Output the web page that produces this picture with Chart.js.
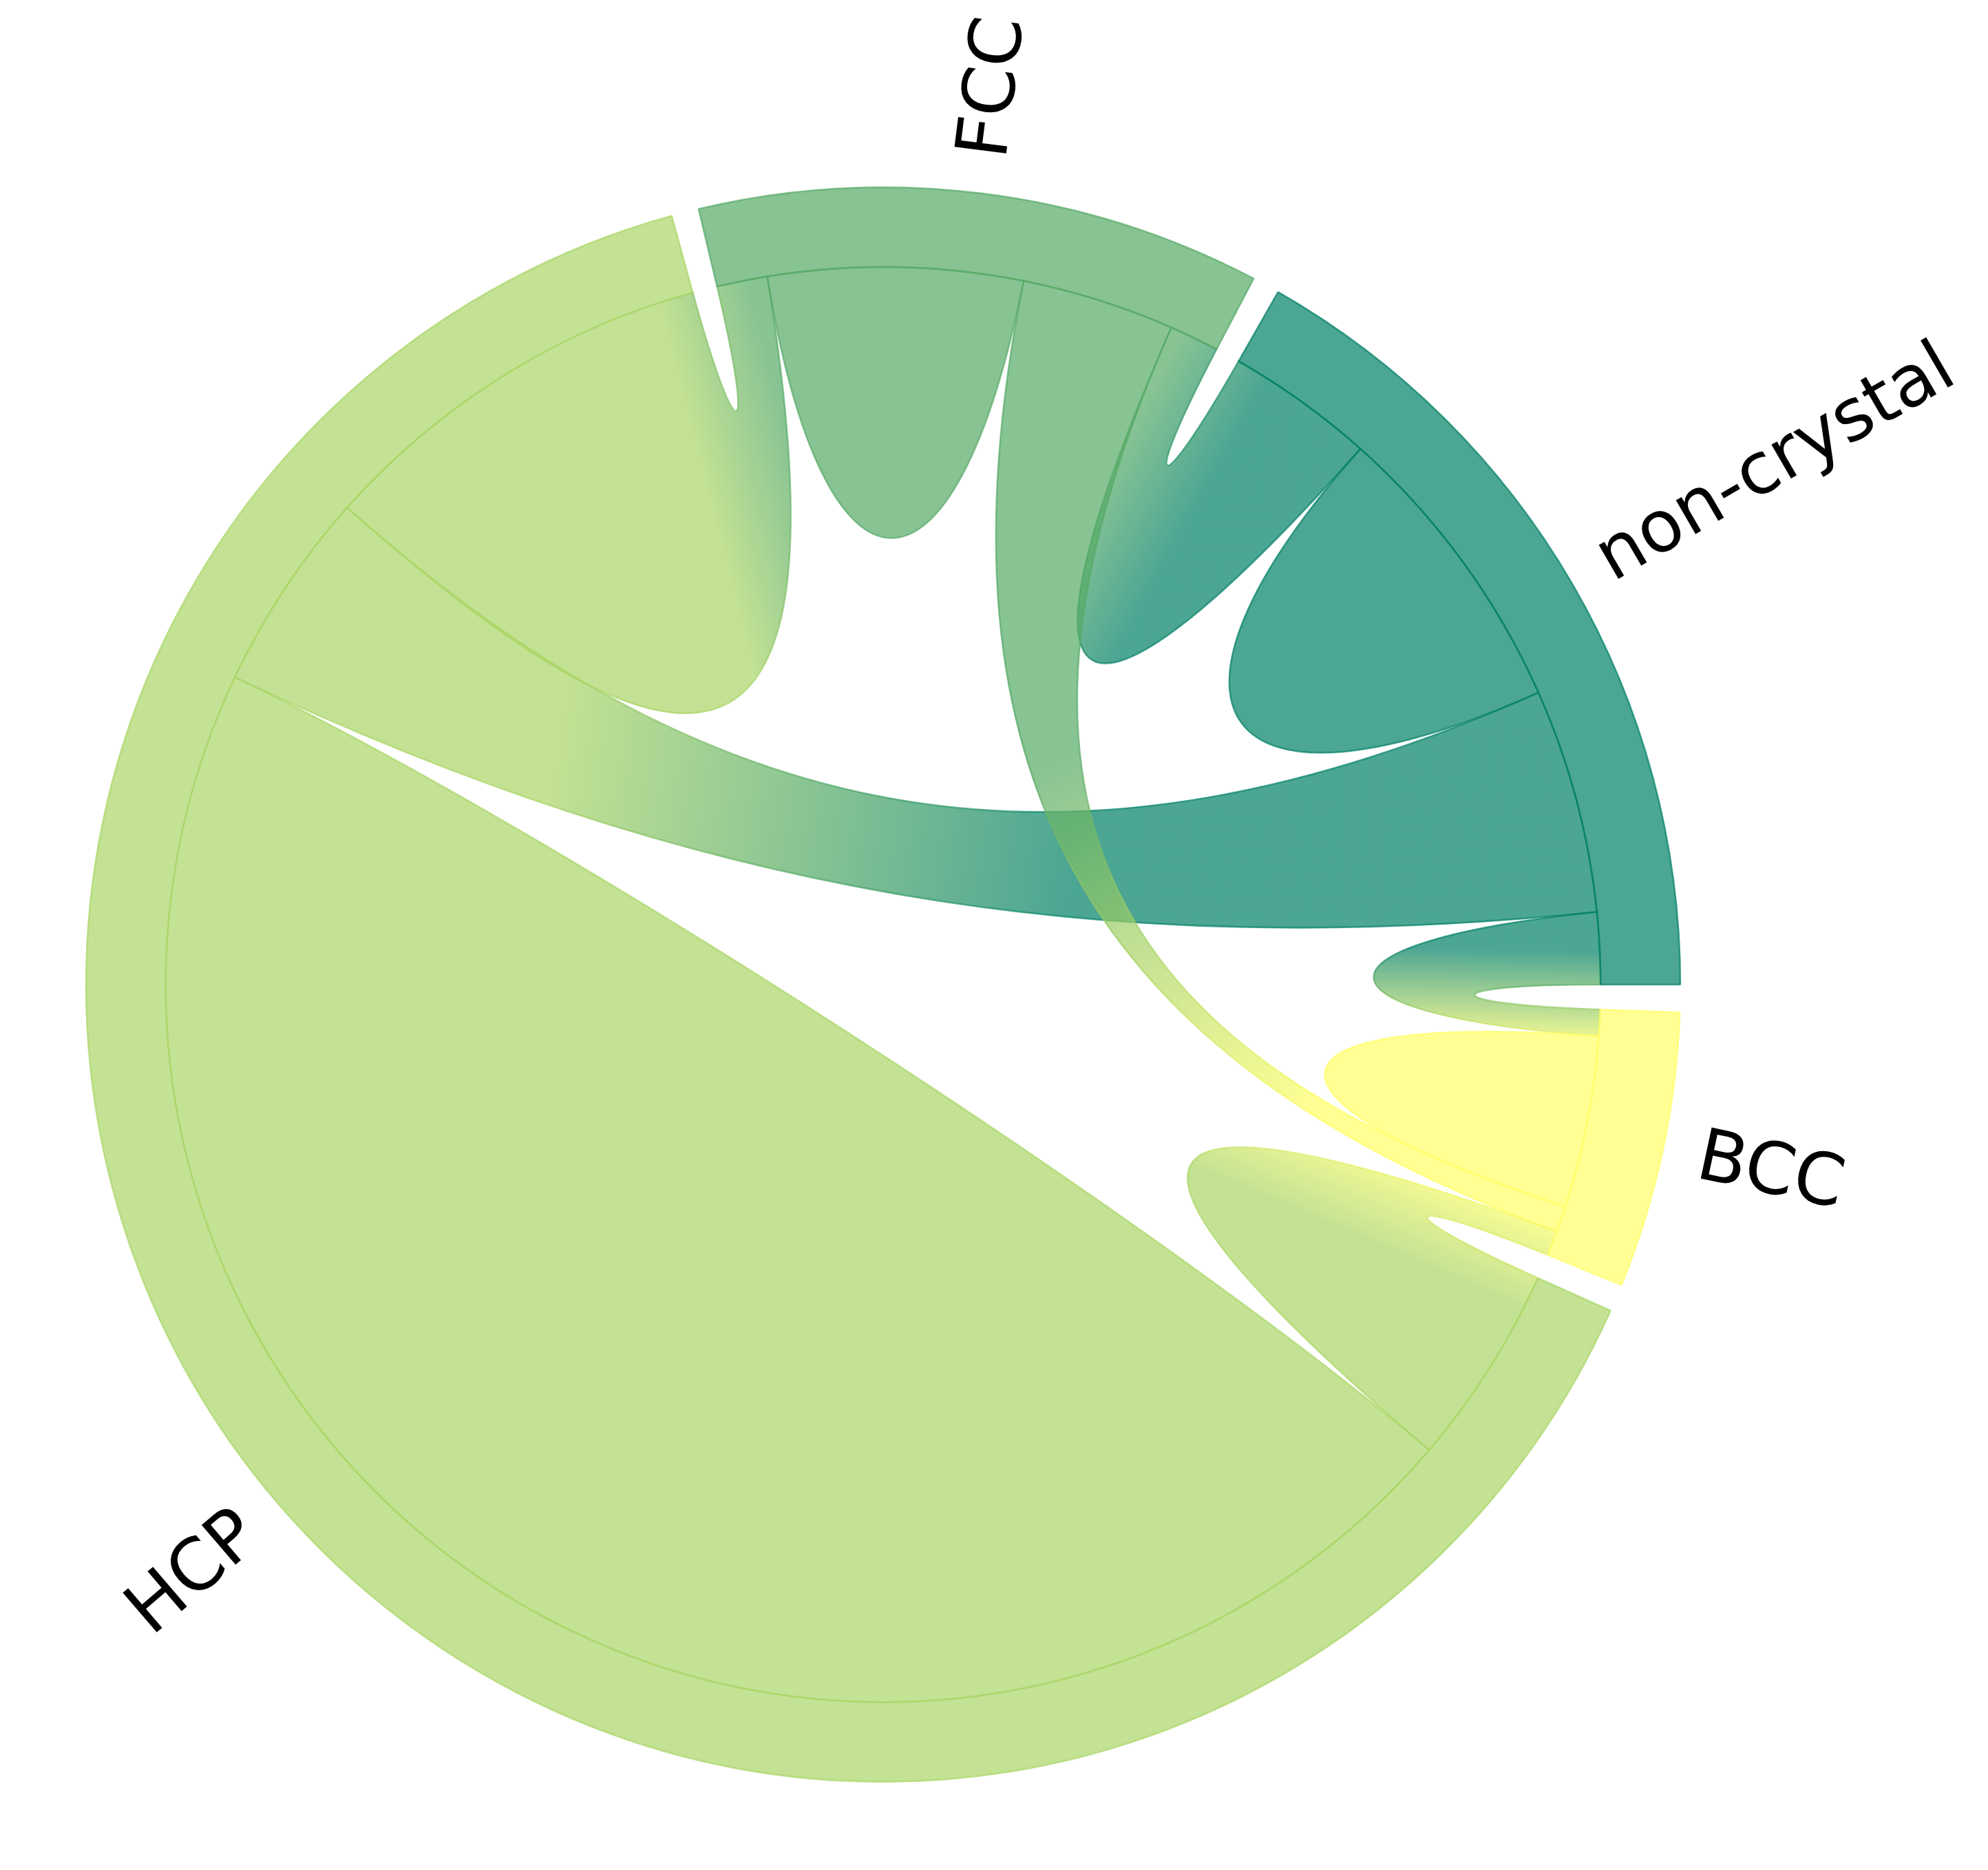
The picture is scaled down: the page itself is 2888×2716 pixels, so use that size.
<!DOCTYPE html>
<html><head><meta charset="utf-8">
<script src="https://cdn.jsdelivr.net/npm/chart.js@4.4.0/dist/chart.umd.min.js"></script>
<style>html,body{margin:0;padding:0;background:#fff;}canvas{display:block;}</style>
</head><body>
<canvas id="c" width="2888" height="2716" style="width:2888px;height:2716px"></canvas>
<script>
// categories (counter-clockwise order starting at 3 o'clock)
const names = ['non-crystal', 'FCC', 'HCP', 'BCC'];
// flow matrix rows (% of atoms), columns in the same order as names
const fromNonCrystal = [6.90, 3.41, 5.17, 1.65];
const fromFCC        = [1.14, 5.85, 1.16, 3.52];
const fromHCP        = [4.63, 9.36, 46.85, 4.63];
const fromBCC        = [0.60, 0.60, 0.57, 3.95];
const colors = ['#008066', '#55aa66', '#aad566', '#ffff66'];

// ---- style constants ----
const PAD_DEG = 2, ALPHA = 0.7, CHORDWIDTH = 0.7, SELF_RC = 0.51;
const FONT = '104px "DejaVu Sans"';
const LABEL_R = 1.045;

const matrix = [fromNonCrystal, fromFCC, fromHCP, fromBCC];
const n = names.length;
const rowSums = matrix.map(r => r.reduce((a, b) => a + b, 0));
const total = rowSums.reduce((a, b) => a + b, 0);
const gapVal = total * PAD_DEG / (360 - n * PAD_DEG);

function rgba(hex, a) {
  const v = parseInt(hex.slice(1), 16);
  return `rgba(${(v >> 16) & 255},${(v >> 8) & 255},${v & 255},${a})`;
}

// doughnut runs clockwise from 3 o'clock: gap, BCC, gap, HCP, gap, FCC, gap, non-crystal
const dData = [], dBg = [], dBorder = [], dBW = [], dIdx = [];
for (let k = n - 1; k >= 0; k--) {
  dData.push(gapVal); dBg.push('rgba(0,0,0,0)'); dBorder.push('rgba(0,0,0,0)'); dBW.push(0); dIdx.push(-1);
  dData.push(rowSums[k]); dBg.push(rgba(colors[k], ALPHA)); dBorder.push(rgba(colors[k], ALPHA)); dBW.push(2.5); dIdx.push(k);
}

const chordPlugin = {
  id: 'chords',
  beforeDatasetsDraw(chart) {
    const meta = chart.getDatasetMeta(0);
    const ctx = chart.ctx;
    const arcs = {};
    meta.data.forEach((el, i) => { if (dIdx[i] >= 0) arcs[dIdx[i]] = el.getProps(['x','y','startAngle','endAngle','innerRadius','outerRadius'], true); });
    const cx = arcs[0].x, cy = arcs[0].y, R = arcs[0].innerRadius;
    const pt = (r, a) => [cx + r * Math.cos(a), cy - r * Math.sin(a)];
    // segment angles (math convention, ccw)
    const seg = [];
    for (let k = 0; k < n; k++) {
      const a = arcs[k];
      const per = (a.endAngle - a.startAngle) / rowSums[k];
      let cur = -a.endAngle;
      seg[k] = [];
      const order = [(k + n - 1) % n, (k + 2) % n, k, (k + 1) % n];
      order.forEach(j => { const w = matrix[k][j] * per; seg[k][j] = [cur, cur + w]; cur += w; });
    }
    const adist = (a, b) => { let d = Math.abs(a - b) % (2 * Math.PI); return Math.min(d, 2 * Math.PI - d) * 180 / Math.PI; };
    const rcFor = d => R * (1 - CHORDWIDTH * Math.min(1, Math.max(0.2, 0.4 + (d - 2 * PAD_DEG) / (15 * PAD_DEG))));
    ctx.save();
    ctx.lineWidth = 2.5;
    for (let i = 0; i < n; i++) {
      for (let j = i; j < n; j++) {
        ctx.beginPath();
        if (i === j) {
          const [s, e] = seg[i][i];
          const rs = R * SELF_RC;
          ctx.moveTo(...pt(R, s));
          ctx.arc(cx, cy, R, -s, -e, true);
          ctx.bezierCurveTo(...pt(rs, e), ...pt(rs, s), ...pt(R, s));
          ctx.closePath();
          ctx.fillStyle = rgba(colors[i], ALPHA);
          ctx.strokeStyle = rgba(colors[i], ALPHA);
        } else {
          const [s1, e1] = seg[i][j];
          const [s2, e2] = seg[j][i];
          const d1 = adist(s1, e2), d2 = adist(e1, s2);
          const rc = rcFor(d2), rc2 = rcFor(d1);
          ctx.moveTo(...pt(R, s1));
          ctx.arc(cx, cy, R, -s1, -e1, true);
          ctx.bezierCurveTo(...pt(rc, e1), ...pt(rc, s2), ...pt(R, s2));
          ctx.arc(cx, cy, R, -s2, -e2, true);
          ctx.bezierCurveTo(...pt(rc2, e2), ...pt(rc2, s1), ...pt(R, s1));
          ctx.closePath();
          let A, B;
          if (d1 <= d2) { A = pt(R, s1); B = pt(R, e2); } else { A = pt(R, e1); B = pt(R, s2); }
          const L = Math.hypot(B[0] - A[0], B[1] - A[1]);
          const dx = (B[0] - A[0]) / L, dy = (B[1] - A[1]) / L;
          const M = [A[0] + 0.58 * (B[0] - A[0]), A[1] + 0.58 * (B[1] - A[1])];
          const h = Math.max(0.22 * L, 70);
          const g = ctx.createLinearGradient(M[0] - h * dx, M[1] - h * dy, M[0] + h * dx, M[1] + h * dy);
          g.addColorStop(0, rgba(colors[i], ALPHA));
          g.addColorStop(1, rgba(colors[j], ALPHA));
          ctx.fillStyle = g; ctx.strokeStyle = g;
        }
        ctx.fill();
        ctx.stroke();
      }
    }
    ctx.restore();
  },
  afterDatasetsDraw(chart) {
    const meta = chart.getDatasetMeta(0);
    const ctx = chart.ctx;
    ctx.save();
    ctx.font = FONT; ctx.fillStyle = '#000'; ctx.textBaseline = 'middle';
    meta.data.forEach((el, i) => {
      const k = dIdx[i]; if (k < 0) return;
      const p = el.getProps(['x','y','startAngle','endAngle','outerRadius'], true);
      const mid = -(p.startAngle + p.endAngle) / 2;
      let deg = ((mid * 180 / Math.PI) % 360 + 360) % 360;
      const r = p.outerRadius * LABEL_R;
      const x = p.x + r * Math.cos(mid), y = p.y - r * Math.sin(mid);
      let rot, align;
      if (deg > 90 && deg < 270) { rot = deg - 180; align = 'right'; }
      else { rot = deg > 270 ? deg - 360 : deg; align = 'left'; }
      ctx.save();
      ctx.translate(x, y);
      ctx.rotate(-rot * Math.PI / 180);
      ctx.textAlign = align;
      ctx.fillText(names[k], 0, 0);
      ctx.restore();
    });
    ctx.restore();
  }
};

new Chart(document.getElementById('c'), {
  type: 'doughnut',
  data: {
    labels: dIdx.map(k => k < 0 ? '' : names[k]),
    datasets: [{ data: dData, backgroundColor: dBg, borderColor: dBorder, borderWidth: dBW, hoverOffset: 0, offset: 0 }]
  },
  options: {
    responsive: false,
    animation: false,
    rotation: 90,
    cutout: '90%',
    radius: 1158,
    layout: { padding: { left: 125, right: 447, top: 272, bottom: 128 } },
    plugins: { legend: { display: false }, tooltip: { enabled: false } },
    events: []
  },
  plugins: [chordPlugin]
});
</script>
</body></html>
